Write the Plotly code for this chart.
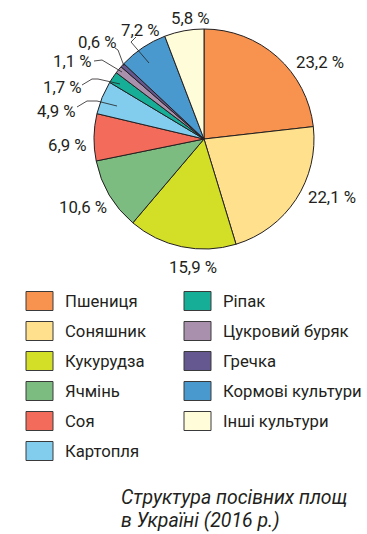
import plotly.graph_objects as go

W, H = 367, 534

crops = ["Пшениця", "Соняшник", "Кукурудза", "Ячмінь", "Соя", "Картопля",
         "Ріпак", "Цукровий буряк", "Гречка", "Кормові культури", "Інші культури"]
shares = [23.2, 22.1, 15.9, 10.6, 6.9, 4.9, 1.7, 1.1, 0.6, 7.2, 5.8]
colors = ["#F7924F", "#FFE08C", "#D3DE27", "#7DBC81", "#F36C5B", "#82CDEE",
          "#17AE98", "#A991AE", "#65578F", "#4A99CE", "#FFFCD9"]
value_labels = ["23,2 %", "22,1 %", "15,9 %", "10,6 %", "6,9 %", "4,9 %",
                "1,7 %", "1,1 %", "0,6 %", "7,2 %", "5,8 %"]
caption = ["Структура посівних площ", "в Україні (2016 р.)"]

# layout (pixels)
cx, cy, R = 204, 139, 110
label_pos = [(320, 62), (332, 197), (193, 267), (83, 207), (67, 145), (57, 111),
             (62, 87), (72, 61), (97, 42), (140, 30), (190, 18)]
leaders = {
    5: [(77, 107), (87, 101), (97, 101), (117, 106)],
    6: [(82, 85), (92, 79), (98, 79), (120, 84)],
    7: [(94, 61), (102, 60), (122, 72)],
    8: [(115, 48), (118, 50), (124, 66)],
    9: [(136, 37), (131, 42), (149, 63)],
}
TXT = "#231F20"
FONT = "Roboto"


def px(x):
    return x / W


def py(y):
    return 1 - y / H


fig = go.Figure(go.Pie(
    labels=crops, values=shares, sort=False, direction="clockwise",
    marker=dict(colors=colors, line=dict(color=TXT, width=1)),
    textinfo="none", hoverinfo="label+percent", showlegend=False,
    domain=dict(x=[px(cx - R), px(cx + R)], y=[py(cy + R), py(cy - R)]),
))

ann = []
shapes = []
for i, (x, y) in enumerate(label_pos):
    ann.append(dict(x=px(x), y=py(y), xref="paper", yref="paper", text=value_labels[i],
                    showarrow=False, font=dict(family=FONT, size=16.8, color=TXT),
                    xanchor="center", yanchor="middle"))
for i, pts in leaders.items():
    path = "M " + " L ".join(f"{px(a)},{py(b)}" for a, b in pts)
    shapes.append(dict(type="path", path=path, xref="paper", yref="paper",
                       line=dict(color=TXT, width=0.8)))

# legend
col_x = [26, 184]
row_y0, row_dy = 301, 30
for i, name in enumerate(crops):
    col = 0 if i < 6 else 1
    row = i if i < 6 else i - 6
    x0 = col_x[col]
    yc = row_y0 + row * row_dy
    shapes.append(dict(type="rect", xref="paper", yref="paper",
                       x0=px(x0), x1=px(x0 + 27), y0=py(yc + 9.5), y1=py(yc - 9.5),
                       fillcolor=colors[i], line=dict(color="#3a3a3a", width=1)))
    ann.append(dict(x=px(x0 + 37), y=py(yc), xref="paper", yref="paper", text=name,
                    showarrow=False, font=dict(family=FONT, size=16.7, color=TXT),
                    xanchor="left", yanchor="middle"))

for j, line in enumerate(caption):
    ann.append(dict(x=px(119), y=py(498 + 22 * j), xref="paper", yref="paper",
                    text=f"<i>{line}</i>", showarrow=False,
                    font=dict(family=FONT, size=19.5, color=TXT),
                    xanchor="left", yanchor="middle"))

fig.update_layout(width=W, height=H, margin=dict(l=0, r=0, t=0, b=0),
                  paper_bgcolor="white", plot_bgcolor="white",
                  annotations=ann, shapes=shapes)
fig.write_html("out.html")
